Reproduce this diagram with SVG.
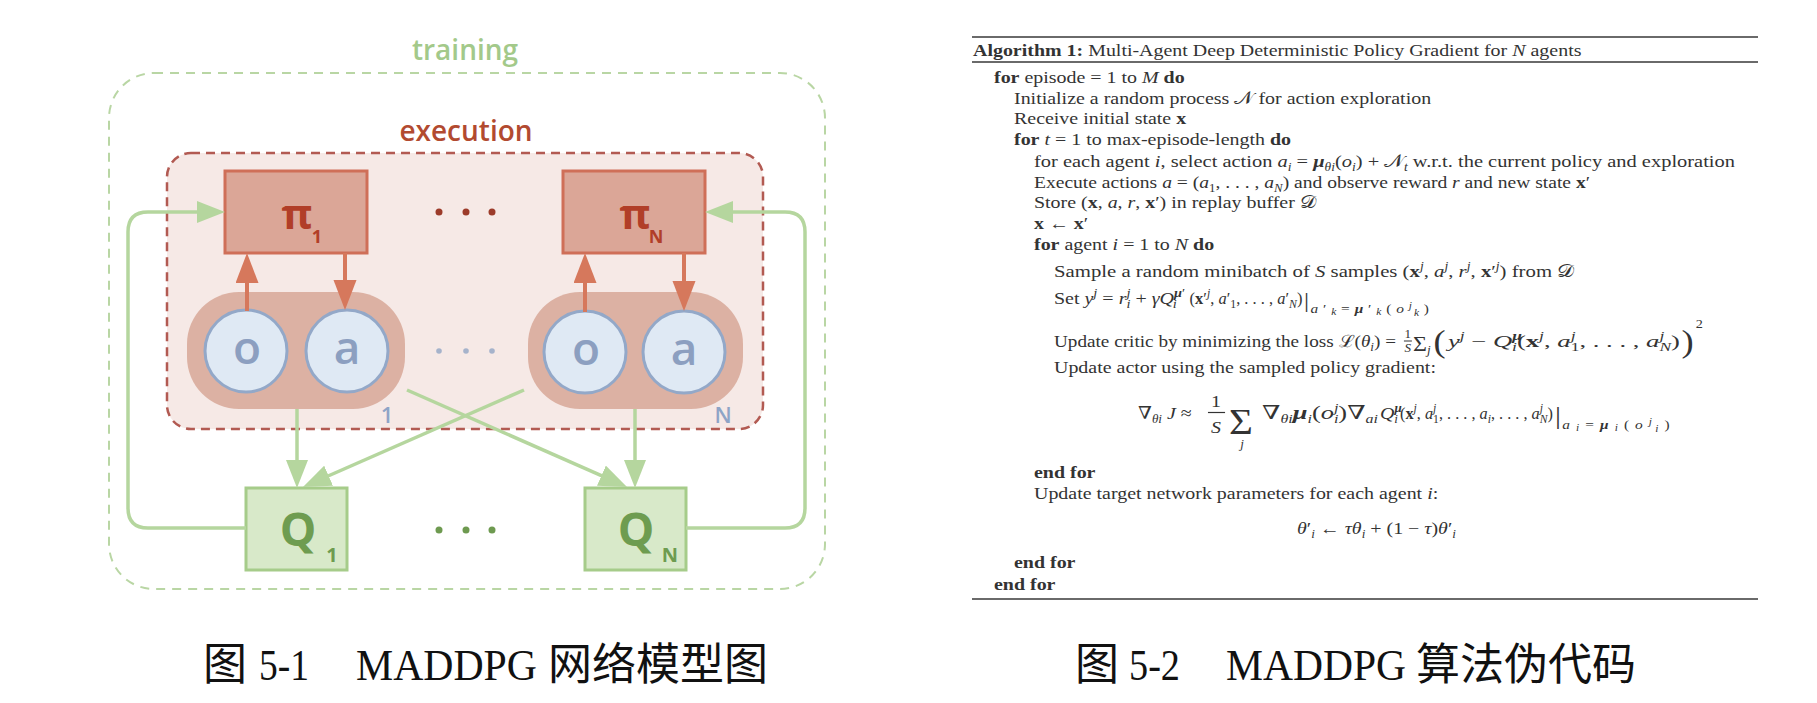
<svg xmlns="http://www.w3.org/2000/svg" width="1817" height="703" viewBox="0 0 1817 703">
<defs>
<style>
.lbl{font-family:"Open Sans","Liberation Sans",sans-serif;font-weight:600}
.al{font-family:"Liberation Serif","DejaVu Serif",serif;font-size:17.5px;fill:#333}
.b{font-weight:bold}
.i{font-style:italic}
.bi{font-weight:bold;font-style:italic}
.p{font-size:11.5px;baseline-shift:6.5px}
.d{font-size:11.5px;baseline-shift:-3.5px}
.cap{font-size:44px;fill:#111}
.lat{font-family:"Liberation Serif",serif}
.cjk{font-family:"Noto Sans CJK SC",sans-serif}
.circ{fill:#dfe9f4;stroke:#93a8c8;stroke-width:3}
.pill{fill:#dcb1a3}
.pibox{fill:#dba697;stroke:#cf6f58;stroke-width:3}
.qbox{fill:#d8e9c9;stroke:#a6cc8a;stroke-width:3}
.oa{font-size:46px;fill:#8c9fc0;text-anchor:middle}
.pit{font-weight:700;fill:#b13e28}
.qt{font-weight:700;fill:#6e9c50}
.og{stroke:#d6785c;stroke-width:4;fill:none}
.gr{stroke:#b5d69e;stroke-width:3.5;fill:none}
.rule{stroke:#6a6a6a;stroke-width:2}
</style>
<marker id="ahO" markerUnits="userSpaceOnUse" markerWidth="30" markerHeight="24" refX="15" refY="11.5" orient="auto"><path d="M0,0 L30,11.5 L0,23 z" fill="#d6785c"/></marker>
<marker id="ahG" markerUnits="userSpaceOnUse" markerWidth="28" markerHeight="22" refX="13" refY="11" orient="auto"><path d="M0,0 L28,11 L0,22 z" fill="#b5d69e"/></marker>
</defs>
<rect width="1817" height="703" fill="#fff"/>

<g id="training">
<rect x="109" y="73" width="716" height="516" rx="45" fill="none" stroke="#b9d6a4" stroke-width="2" stroke-dasharray="9 7"/>
<text class="lbl" x="465" y="60" font-size="28" fill="#a3c98a" text-anchor="middle">training</text>
</g>

<g id="execution">
<rect x="167" y="153" width="596" height="276" rx="24" fill="#f6e9e6" stroke="#b25a52" stroke-width="2.5" stroke-dasharray="9 6"/>
<text class="lbl" x="466" y="141" font-size="28" fill="#b24a30" text-anchor="middle">execution</text>
</g>

<g id="pi1">
<rect class="pibox" x="225" y="171" width="142" height="82"/>
<text class="lbl pit" x="297" y="229" font-size="42" text-anchor="middle">π</text>
<text class="lbl pit" x="317" y="243" font-size="18" text-anchor="middle">1</text>
</g>
<g id="piN">
<rect class="pibox" x="563" y="171" width="142" height="82"/>
<text class="lbl pit" x="635" y="229" font-size="42" text-anchor="middle">π</text>
<text class="lbl pit" x="656" y="243" font-size="18" text-anchor="middle">N</text>
</g>

<g id="agent1">
<rect class="pill" x="187" y="292" width="218" height="117" rx="52"/>
<circle class="circ" cx="246" cy="351" r="41"/>
<circle class="circ" cx="347" cy="351" r="41"/>
<text class="lbl oa" x="247" y="364">o</text>
<text class="lbl oa" x="347" y="364">a</text>
<text class="lbl" x="387" y="423" font-size="22" fill="#8ea4c6" text-anchor="middle">1</text>
</g>
<g id="agentN">
<rect class="pill" x="528" y="292" width="215" height="117" rx="52"/>
<circle class="circ" cx="585" cy="352" r="41"/>
<circle class="circ" cx="684" cy="352" r="41"/>
<text class="lbl oa" x="586" y="365">o</text>
<text class="lbl oa" x="684" y="365">a</text>
<text class="lbl" x="723" y="423" font-size="22" fill="#8ea4c6" text-anchor="middle">N</text>
</g>

<g id="q1">
<rect class="qbox" x="246" y="488" width="101" height="82"/>
<text class="lbl qt" x="298" y="546" font-size="46" text-anchor="middle">Q</text>
<text class="lbl qt" x="332" y="562" font-size="20" text-anchor="middle">1</text>
</g>
<g id="qN">
<rect class="qbox" x="585" y="488" width="101" height="82"/>
<text class="lbl qt" x="636" y="546" font-size="46" text-anchor="middle">Q</text>
<text class="lbl qt" x="670" y="562" font-size="20" text-anchor="middle">N</text>
</g>

<g id="dots">
<circle cx="439" cy="212" r="3.5" fill="#9c3b2a"/><circle cx="466" cy="212" r="3.5" fill="#9c3b2a"/><circle cx="492" cy="212" r="3.5" fill="#9c3b2a"/>
<circle cx="439" cy="351" r="2.8" fill="#a6b3cb"/><circle cx="466" cy="351" r="2.8" fill="#a6b3cb"/><circle cx="492" cy="351" r="2.8" fill="#a6b3cb"/>
<circle cx="439" cy="530" r="3.5" fill="#6e9a50"/><circle cx="466" cy="530" r="3.5" fill="#6e9a50"/><circle cx="492" cy="530" r="3.5" fill="#6e9a50"/>
</g>

<g id="connectors">
<line class="og" x1="247" y1="311" x2="247" y2="268" marker-end="url(#ahO)"/>
<line class="og" x1="345" y1="253" x2="345" y2="295" marker-end="url(#ahO)"/>
<line class="og" x1="585" y1="312" x2="585" y2="268" marker-end="url(#ahO)"/>
<line class="og" x1="684" y1="253" x2="684" y2="296" marker-end="url(#ahO)"/>
<line class="gr" x1="297" y1="409" x2="297" y2="473" marker-end="url(#ahG)"/>
<line class="gr" x1="635" y1="409" x2="635" y2="473" marker-end="url(#ahG)"/>
<line class="gr" x1="407" y1="390" x2="613.3" y2="480.9" marker-end="url(#ahG)"/>
<line class="gr" x1="524" y1="390" x2="316.7" y2="481" marker-end="url(#ahG)"/>
<path class="gr" d="M246,528 H148 Q128,528 128,508 V232 Q128,212 148,212 H210" marker-end="url(#ahG)"/>
<path class="gr" d="M686,528 H785 Q805,528 805,508 V232 Q805,212 785,212 H720" marker-end="url(#ahG)"/>
</g>

<g id="rules">
<line class="rule" x1="972" y1="37" x2="1758" y2="37"/>
<line class="rule" x1="972" y1="62" x2="1758" y2="62" stroke-width="1.5"/>
<line class="rule" x1="972" y1="599" x2="1758" y2="599"/>
</g>

<g id="algorithm" class="al" transform="matrix(1.14 0 0 1 -136.22 0)">
<text x="973" y="56"><tspan class="b">Algorithm 1:</tspan> Multi-Agent Deep Deterministic Policy Gradient for <tspan class="i">N</tspan> agents</text>
<text x="991.42" y="83"><tspan class="b">for</tspan> episode = 1 to <tspan class="i">M</tspan> <tspan class="b">do</tspan></text>
<text x="1008.96" y="104">Initialize a random process 𝒩 for action exploration</text>
<text x="1008.96" y="124">Receive initial state <tspan class="b">x</tspan></text>
<text x="1008.96" y="145"><tspan class="b">for</tspan> <tspan class="i">t</tspan> = 1 to max-episode-length <tspan class="b">do</tspan></text>
<text x="1026.51" y="167" textLength="614.9" lengthAdjust="spacingAndGlyphs">for each agent <tspan class="i">i</tspan>, select action <tspan class="i">a</tspan><tspan class="d i">i</tspan> = <tspan class="bi">μ</tspan><tspan class="d i">θ</tspan><tspan class="d i" font-size="8.5">i</tspan>(<tspan class="i">o</tspan><tspan class="d i">i</tspan>) + 𝒩<tspan class="d i">t</tspan> w.r.t. the current policy and exploration</text>
<text x="1026.51" y="188" textLength="487.7" lengthAdjust="spacingAndGlyphs">Execute actions <tspan class="i">a</tspan> = (<tspan class="i">a</tspan><tspan class="d">1</tspan>, . . . , <tspan class="i">a</tspan><tspan class="d i">N</tspan>) and observe reward <tspan class="i">r</tspan> and new state <tspan class="b">x</tspan>′</text>
<text x="1026.51" y="208">Store (<tspan class="b">x</tspan>, <tspan class="i">a</tspan>, <tspan class="i">r</tspan>, <tspan class="b">x</tspan>′) in replay buffer 𝒟</text>
<text x="1026.51" y="229"><tspan class="b">x</tspan> ← <tspan class="b">x</tspan>′</text>
<text x="1026.51" y="250"><tspan class="b">for</tspan> agent <tspan class="i">i</tspan> = 1 to <tspan class="i">N</tspan> <tspan class="b">do</tspan></text>
<text x="1044.05" y="277" textLength="456" lengthAdjust="spacingAndGlyphs">Sample a random minibatch of <tspan class="i">S</tspan> samples (<tspan class="b">x</tspan><tspan class="p i">j</tspan>, <tspan class="i">a</tspan><tspan class="p i">j</tspan>, <tspan class="i">r</tspan><tspan class="p i">j</tspan>, <tspan class="b">x</tspan>′<tspan class="p i">j</tspan>) from 𝒟</text>

<text x="1044.05" y="304" font-size="16" textLength="115" lengthAdjust="spacingAndGlyphs">Set <tspan class="i">y</tspan><tspan class="p i">j</tspan> = <tspan class="i">r</tspan><tspan class="p i">j</tspan><tspan class="d i" dx="-3.2">i</tspan> + <tspan class="i">γQ</tspan><tspan class="p bi">μ</tspan><tspan class="p">′</tspan><tspan class="d i" dx="-9.8">i</tspan></text>
<text x="1163" y="304" font-size="16" textLength="99" lengthAdjust="spacingAndGlyphs">(<tspan class="b">x</tspan>′<tspan class="p i">j</tspan>, <tspan class="i">a</tspan>′<tspan class="d">1</tspan>, . . . , <tspan class="i">a</tspan>′<tspan class="d i">N</tspan>)</text>
<text x="1263.35" y="307" font-size="22">|</text>
<text x="1269" y="313" font-size="13.5" textLength="104" lengthAdjust="spacing"><tspan class="i">a</tspan>′<tspan class="i" font-size="10" baseline-shift="-2px">k</tspan>=<tspan class="bi">μ</tspan>′<tspan class="i" font-size="10" baseline-shift="-2px">k</tspan>(<tspan class="i">o</tspan><tspan class="i" font-size="10" baseline-shift="4px">j</tspan><tspan class="i" font-size="10" baseline-shift="-3px" dx="-2.5">k</tspan>)</text>

<text x="1044.05" y="347" font-size="16.8" textLength="300" lengthAdjust="spacingAndGlyphs">Update critic by minimizing the loss ℒ(<tspan class="i">θ</tspan><tspan class="d i">i</tspan>) =</text>
<text x="1354.5" y="338" font-size="11.5" text-anchor="middle">1</text>
<line x1="1351" y1="341" x2="1358" y2="341" stroke="#333" stroke-width="1"/>
<text x="1354.5" y="352" font-size="11.5" class="i" text-anchor="middle">S</text>
<text x="1359" y="351" font-size="21">Σ<tspan class="i" font-size="11.5" dy="3">j</tspan></text>
<text x="1377" y="352" font-size="32">(</text>
<text x="1389.67" y="347" textLength="203.5" lengthAdjust="spacingAndGlyphs"><tspan class="i">y</tspan><tspan class="p i">j</tspan> − <tspan class="i">Q</tspan><tspan class="p bi">μ</tspan><tspan class="d i" dx="-6.6">i</tspan>(<tspan class="b">x</tspan><tspan class="p i">j</tspan>, <tspan class="i">a</tspan><tspan class="p i">j</tspan><tspan class="d" dx="-3.2">1</tspan>, . . . , <tspan class="i">a</tspan><tspan class="p i">j</tspan><tspan class="d i" dx="-3.2">N</tspan>)</text>
<text x="1594.5" y="352" font-size="32">)</text>
<text x="1607" y="328" font-size="12.5">2</text>

<text x="1044.05" y="373">Update actor using the sampled policy gradient:</text>

<text x="1117.74" y="419">∇<tspan class="d i">θ</tspan><tspan class="d i" font-size="8.5">i</tspan> <tspan class="i">J</tspan> ≈</text>
<text x="1186.16" y="407" text-anchor="middle">1</text>
<line x1="1179.1" y1="412.5" x2="1194.1" y2="412.5" stroke="#333" stroke-width="1.2"/>
<text x="1186.16" y="433" class="i" text-anchor="middle">S</text>
<text x="1197.56" y="434" font-size="36">Σ<tspan class="i" font-size="11.5" x="1208.96" dy="14" text-anchor="middle">j</tspan></text>
<text x="1226.51" y="419" font-size="19" textLength="101.8" lengthAdjust="spacingAndGlyphs">∇<tspan class="d i">θ</tspan><tspan class="d i" font-size="8.5">i</tspan><tspan class="bi">μ</tspan><tspan class="d i">i</tspan>(<tspan class="i">o</tspan><tspan class="p i">j</tspan><tspan class="d i" dx="-3.2">i</tspan>)∇<tspan class="d i">a</tspan><tspan class="d i" font-size="8.5">i</tspan></text>
<text x="1330.02" y="419"><tspan class="i">Q</tspan><tspan class="p bi">μ</tspan><tspan class="d i" dx="-6.6">i</tspan></text>
<text x="1347.56" y="419" font-size="16" textLength="134.2" lengthAdjust="spacingAndGlyphs">(<tspan class="b">x</tspan><tspan class="p i">j</tspan>, <tspan class="i">a</tspan><tspan class="p i">j</tspan><tspan class="d" dx="-3.2">1</tspan>, . . . , <tspan class="i">a</tspan><tspan class="d i">i</tspan>, . . . , <tspan class="i">a</tspan><tspan class="p i">j</tspan><tspan class="d i" dx="-3.2">N</tspan>)</text>
<text x="1483.53" y="424" font-size="26">|</text>
<text x="1490" y="429" font-size="13.5" textLength="94" lengthAdjust="spacing"><tspan class="i">a</tspan><tspan class="i" font-size="10" baseline-shift="-2px">i</tspan>=<tspan class="bi">μ</tspan><tspan class="i" font-size="10" baseline-shift="-2px">i</tspan>(<tspan class="i">o</tspan><tspan class="i" font-size="10" baseline-shift="4px">j</tspan><tspan class="i" font-size="10" baseline-shift="-3px" dx="-2.5">i</tspan>)</text>

<text x="1026.51" y="478" class="b">end for</text>
<text x="1026.51" y="499">Update target network parameters for each agent <tspan class="i">i</tspan>:</text>
<text x="1257.21" y="534"><tspan class="i">θ</tspan>′<tspan class="d i">i</tspan> ← <tspan class="i">τθ</tspan><tspan class="d i">i</tspan> + (1 − <tspan class="i">τ</tspan>)<tspan class="i">θ</tspan>′<tspan class="d i">i</tspan></text>
<text x="1008.96" y="568" class="b">end for</text>
<text x="991.42" y="590" class="b">end for</text>
</g>

<g id="captions" class="cap">
<text x="203" y="680" class="cjk">图</text>
<text x="259" y="680" class="lat" textLength="50" lengthAdjust="spacingAndGlyphs">5-1</text>
<text x="356" y="680" class="lat" textLength="181" lengthAdjust="spacingAndGlyphs">MADDPG</text>
<text x="548" y="680" class="cjk">网络模型图</text>
<text x="1075" y="680" class="cjk">图</text>
<text x="1129" y="680" class="lat" textLength="51" lengthAdjust="spacingAndGlyphs">5-2</text>
<text x="1226" y="680" class="lat" textLength="180" lengthAdjust="spacingAndGlyphs">MADDPG</text>
<text x="1416" y="680" class="cjk">算法伪代码</text>
</g>
</svg>
